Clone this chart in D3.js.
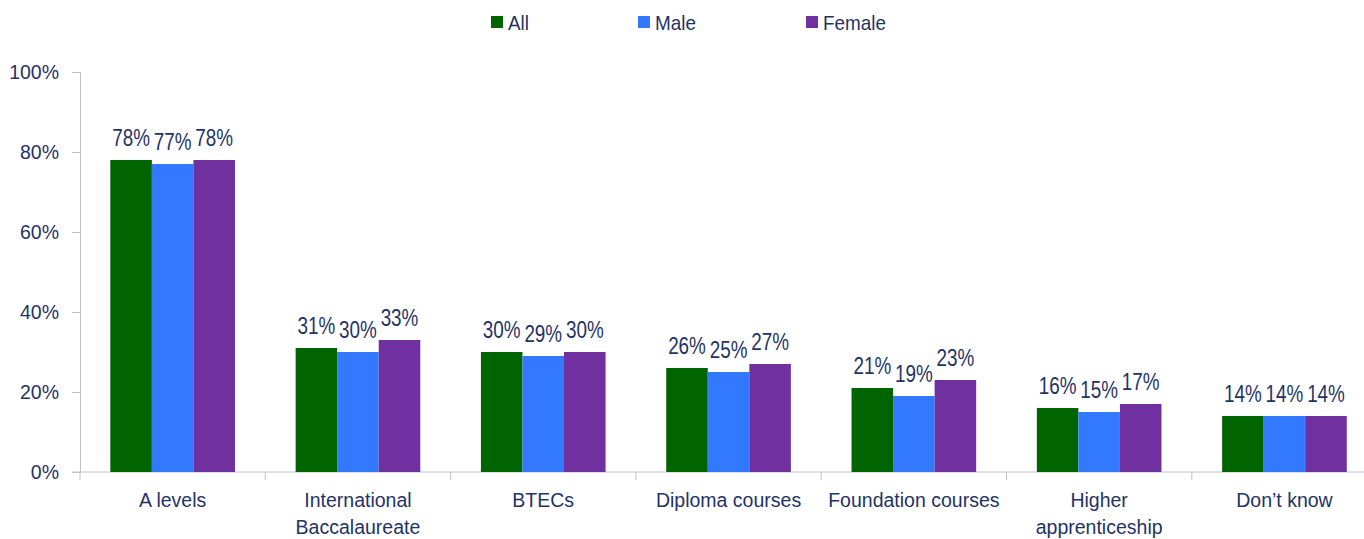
<!DOCTYPE html>
<html>
<head>
<meta charset="utf-8">
<script src="https://cdn.jsdelivr.net/npm/d3@7"></script>
<style>
  body { margin: 0; background: #fff; }
  text { font-family: "Liberation Sans", Arial, sans-serif; fill: #1f3366; }
</style>
</head>
<body>
<div id="chart"></div>
<script>
const categories = [["A levels"], ["International", "Baccalaureate"], ["BTECs"], ["Diploma courses"], ["Foundation courses"], ["Higher", "apprenticeship"], ["Don\u2019t know"]];
const seriesNames = ["All", "Male", "Female"];
const allValues = [78, 31, 30, 26, 21, 16, 14];
const maleValues = [77, 30, 29, 25, 19, 15, 14];
const femaleValues = [78, 33, 30, 27, 23, 17, 14];
const yTicks = [0, 20, 40, 60, 80, 100];

(function() {
    const colors = ["#006400", "#3379ff", "#7030a0"];
    const series = [allValues, maleValues, femaleValues];

    const W = 1364, H = 539;
    const margin = {left: 80, top: 72, bottom: 472};
    const band = 185.3;

    const svg = d3.select("#chart").append("svg")
        .attr("width", W).attr("height", H);

    const x = d3.scaleBand()
        .domain(d3.range(categories.length))
        .range([margin.left, margin.left + band * categories.length])
        .paddingInner(0).paddingOuter(0);

    // bars inside a category
    const xs = d3.scaleBand()
        .domain(d3.range(seriesNames.length))
        .range([0, x.bandwidth()])
        .paddingOuter(0.73).paddingInner(0);

    const y = d3.scaleLinear().domain([0, 100]).range([margin.bottom, margin.top]);

    // y axis
    const yAxis = svg.append("g")
        .attr("transform", `translate(${margin.left},0)`)
        .call(d3.axisLeft(y).tickValues(yTicks).tickFormat(d => d + "%").tickSize(8).tickPadding(13));
    yAxis.select(".domain").attr("stroke", "#c0c0cc");
    yAxis.selectAll(".tick line").attr("stroke", "#c0c0cc");
    yAxis.selectAll("text")
        .style("font-size", "19.5px")
        .style("font-family", "'Liberation Sans', Arial, sans-serif")
        .attr("fill", "#1f3366");

    // x axis
    const xAxis = svg.append("g")
        .attr("transform", `translate(0,${margin.bottom})`);
    xAxis.append("line")
        .attr("x1", margin.left - 8).attr("x2", W)
        .attr("stroke", "#c0c0cc");
    xAxis.selectAll(".xtick")
        .data(d3.range(categories.length + 1))
        .enter().append("line")
        .attr("x1", d => margin.left + d * band).attr("x2", d => margin.left + d * band)
        .attr("y1", 0).attr("y2", 8)
        .attr("stroke", "#c0c0cc");

    // bars + value labels
    series.forEach((vals, s) => {
        svg.selectAll(`.bar-${s}`)
            .data(vals)
            .enter().append("rect")
            .attr("x", (d, i) => x(i) + xs(s))
            .attr("y", d => y(d))
            .attr("width", xs.bandwidth())
            .attr("height", d => y(0) - y(d))
            .attr("fill", colors[s]);

        // labels are narrower than the regular font, so squeeze them a bit
        svg.selectAll(`.lab-${s}`)
            .data(vals)
            .enter().append("text")
            .attr("transform", (d, i) => `translate(${x(i) + xs(s) + xs.bandwidth() / 2},${y(d) - 14}) scale(0.82,1)`)
            .attr("text-anchor", "middle")
            .style("font-size", "23px")
            .text(d => d + "%");
    });

    // category labels
    categories.forEach((lines, i) => {
        const t = svg.append("text")
            .attr("x", x(i) + x.bandwidth() / 2)
            .attr("y", 507)
            .attr("text-anchor", "middle")
            .style("font-size", "19.5px");
        lines.forEach((l, j) => {
            t.append("tspan")
                .attr("x", x(i) + x.bandwidth() / 2)
                .attr("dy", j === 0 ? 0 : 27)
                .text(l);
        });
    });

    // legend
    const legendX = [491, 638, 806];
    seriesNames.forEach((name, s) => {
        svg.append("rect")
            .attr("x", legendX[s]).attr("y", 16)
            .attr("width", 12).attr("height", 12)
            .attr("fill", colors[s]);
        svg.append("text")
            .attr("transform", `translate(${legendX[s] + 17},30) scale(0.9,1)`)
            .style("font-size", "21px")
            .text(name);
    });
})();
</script>
</body>
</html>
